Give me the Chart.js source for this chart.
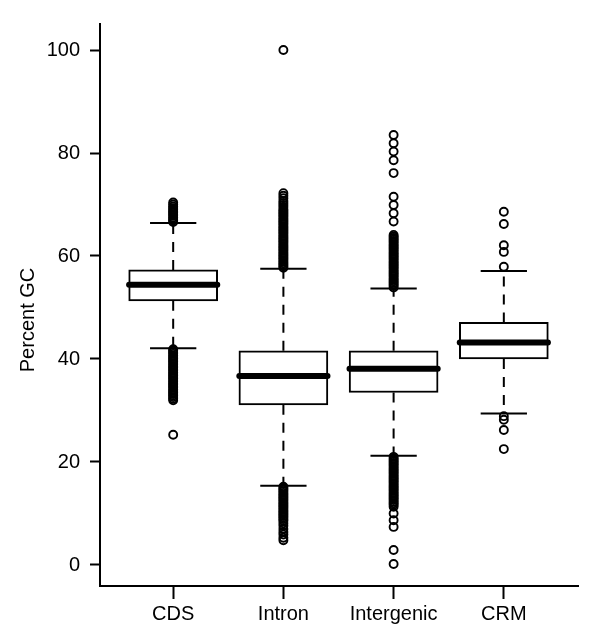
<!DOCTYPE html>
<html>
<head>
<meta charset="utf-8">
<script src="https://cdn.jsdelivr.net/npm/chart.js@4/dist/chart.umd.min.js"></script>
<style>
  html, body { margin: 0; padding: 0; background: #fff; }
</style>
</head>
<body>
<canvas id="gcChart" width="600" height="643"></canvas>
<script>
// categories and box statistics (percent GC)
const categories = ['CDS', 'Intron', 'Intergenic', 'CRM'];
const whiskerLow = [42.1, 15.4, 21.2, 29.4];
const q1 = [51.3, 31.1, 33.5, 40.0];
const median = [54.4, 36.7, 38.1, 43.2];
const q3 = [57.3, 41.6, 41.6, 47.1];
const whiskerHigh = [66.4, 57.5, 53.7, 57.1];
const yTicks = [0, 20, 40, 60, 80, 100];

// outliers
const outliersCDS = [66.6, 66.9, 67.2, 67.5, 67.8, 68.1, 68.4, 68.7, 69.0, 69.3, 69.6, 70.0, 70.4,
  41.9, 41.6, 41.3, 41.0, 40.7, 40.4, 40.1, 39.8, 39.5, 39.2, 38.9, 38.6, 38.3, 38.0, 37.7, 37.4,
  37.1, 36.8, 36.5, 36.2, 35.9, 35.6, 35.3, 35.0, 34.7, 34.4, 34.1, 33.8, 33.5, 33.2, 32.9, 32.6,
  32.3, 32.0, 25.3];
const outliersIntron = [100.0,
  57.7, 58.0, 58.3, 58.6, 58.9, 59.2, 59.5, 59.8, 60.1, 60.4, 60.7, 61.0, 61.3, 61.6, 61.9, 62.2,
  62.5, 62.8, 63.1, 63.4, 63.7, 64.0, 64.3, 64.6, 64.9, 65.2, 65.5, 65.8, 66.1, 66.4, 66.7, 67.0,
  67.3, 67.6, 67.9, 68.2, 68.5, 68.8, 69.1, 69.5, 69.9, 70.3, 70.7, 71.2, 71.7, 72.2,
  15.2, 14.9, 14.6, 14.3, 14.0, 13.7, 13.4, 13.1, 12.8, 12.5, 12.2, 11.9, 11.6, 11.3, 11.0, 10.7,
  10.4, 10.1, 9.8, 9.5, 9.2, 8.9, 8.6, 8.1, 7.6, 7.0, 6.4, 5.9, 5.3, 4.8];
const outliersIntergenic = [83.5, 81.9, 80.3, 78.6, 76.1, 71.5, 69.9, 68.3, 66.7,
  53.9, 54.2, 54.5, 54.8, 55.1, 55.4, 55.7, 56.0, 56.3, 56.6, 56.9, 57.2, 57.5, 57.8, 58.1, 58.4,
  58.7, 59.0, 59.3, 59.6, 59.9, 60.2, 60.5, 60.8, 61.1, 61.4, 61.7, 62.0, 62.3, 62.6, 62.9, 63.2,
  63.5, 63.8, 64.1,
  21.0, 20.7, 20.4, 20.1, 19.8, 19.5, 19.2, 18.9, 18.6, 18.3, 18.0, 17.7, 17.4, 17.1, 16.8, 16.5,
  16.2, 15.9, 15.6, 15.3, 15.0, 14.7, 14.4, 14.1, 13.8, 13.5, 13.2, 12.9, 12.6, 12.3, 12.0, 11.7,
  11.3, 10.0, 8.7, 7.4, 2.9, 0.2];
const outliersCRM = [68.6, 66.2, 62.1, 60.8, 57.9, 28.9, 28.2, 26.2, 22.5];
const outlierSets = [outliersCDS, outliersIntron, outliersIntergenic, outliersCRM];

const FONT = "'Liberation Sans', Arial, Helvetica, sans-serif";
const BOX_HALF = 0.4;
const CAP_HALF = 0.21;
const LW = 2;

const datasets = [];

// boxes (floating bars q1..q3)
datasets.push({
  type: 'bar',
  data: categories.map((c, i) => ({ x: i, y: [q1[i], q3[i]] })),
  backgroundColor: '#fff',
  borderColor: '#000',
  borderWidth: LW,
  borderSkipped: false,
  barThickness: 89,
  order: 5
});

function seg(points, extra) {
  return Object.assign({
    type: 'line',
    data: points,
    borderColor: '#000',
    borderWidth: LW,
    pointRadius: 0,
    fill: false,
    tension: 0,
    order: 3
  }, extra || {});
}

categories.forEach((c, i) => {
  // dashed whiskers
  datasets.push(seg([{ x: i, y: q3[i] }, { x: i, y: whiskerHigh[i] }], { borderDash: [10, 8] }));
  datasets.push(seg([{ x: i, y: q1[i] }, { x: i, y: whiskerLow[i] }], { borderDash: [10, 8] }));
  // whisker caps
  datasets.push(seg([{ x: i - CAP_HALF, y: whiskerHigh[i] }, { x: i + CAP_HALF, y: whiskerHigh[i] }]));
  datasets.push(seg([{ x: i - CAP_HALF, y: whiskerLow[i] }, { x: i + CAP_HALF, y: whiskerLow[i] }]));
  // median
  datasets.push(seg([{ x: i - BOX_HALF, y: median[i] }, { x: i + BOX_HALF, y: median[i] }],
    { borderWidth: 6, borderCapStyle: 'round', order: 0 }));
});

// outlier circles
outlierSets.forEach((vals, i) => {
  datasets.push({
    type: 'scatter',
    data: vals.map(v => ({ x: i, y: v })),
    pointStyle: 'circle',
    pointRadius: 4,
    pointBorderWidth: 1.9,
    pointBorderColor: '#000',
    pointBackgroundColor: 'rgba(0,0,0,0)',
    showLine: false,
    clip: false,
    order: 1
  });
});

// y title drawn centred like the original
const yTitle = {
  id: 'yTitle',
  afterDraw(chart) {
    const ctx = chart.ctx;
    ctx.save();
    ctx.translate(28, 320);
    ctx.rotate(-Math.PI / 2);
    ctx.font = '20px ' + FONT;
    ctx.fillStyle = '#000';
    ctx.textAlign = 'center';
    ctx.textBaseline = 'middle';
    ctx.fillText('Percent GC', 0, 0);
    ctx.restore();
  }
};

new Chart(document.getElementById('gcChart'), {
  type: 'bar',
  data: { datasets: datasets },
  plugins: [yTitle],
  options: {
    responsive: false,
    animation: false,
    devicePixelRatio: 1,
    layout: { padding: { top: 24, right: 22, left: 0, bottom: 0 } },
    plugins: {
      legend: { display: false },
      tooltip: { enabled: false }
    },
    scales: {
      x: {
        type: 'linear',
        min: -0.664,
        max: 3.673,
        offset: false,
        afterBuildTicks: (axis) => { axis.ticks = categories.map((c, i) => ({ value: i })); },
        afterFit: (axis) => { axis.height = 57; },
        grid: { offset: false, drawOnChartArea: false, drawTicks: true, tickLength: 13, tickColor: '#000', tickWidth: LW },
        border: { display: true, color: '#000', width: LW },
        ticks: {
          color: '#000',
          font: { family: FONT, size: 20 },
          padding: 3,
          maxRotation: 0,
          autoSkip: false,
          callback: (v) => categories[v]
        }
      },
      y: {
        type: 'linear',
        min: -4.08,
        max: 105.05,
        afterBuildTicks: (axis) => { axis.ticks = yTicks.map(v => ({ value: v })); },
        afterFit: (axis) => { axis.width = 100; },
        grid: { drawOnChartArea: false, drawTicks: true, tickLength: 10, tickColor: '#000', tickWidth: LW },
        border: { display: true, color: '#000', width: LW },
        ticks: {
          color: '#000',
          font: { family: FONT, size: 20 },
          padding: 10,
          autoSkip: false
        }
      }
    }
  }
});
</script>
</body>
</html>
